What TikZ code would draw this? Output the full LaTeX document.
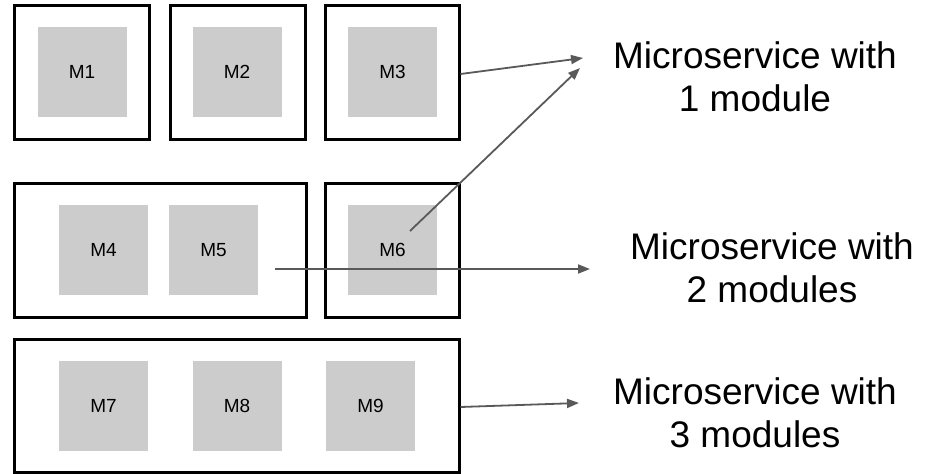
\documentclass[tikz,border=0pt]{standalone}
\usepackage{fontspec}
\setmainfont{Liberation Sans}
\usetikzlibrary{arrows.meta}
\definecolor{modgray}{HTML}{CCCCCC}
\definecolor{arrowgray}{HTML}{595959}

\begin{document}
\begin{tikzpicture}[x=1pt, y=-1pt, align=center,
  svc/.style={draw=black, line width=3pt, minimum height=134pt, inner sep=0pt},
  mod/.style={fill=modgray, minimum width=89pt, minimum height=90pt, inner sep=0pt,
    font=\fontsize{19}{22}\selectfont},
  conn/.style={-{Triangle[length=12pt,width=9pt]}, draw=arrowgray, line width=1.8pt},
  lbl/.style={font=\fontsize{37}{43}\selectfont}]
\useasboundingbox (0,0) rectangle (930,474);

% microservices with one module
\node[svc, minimum width=135pt] (s1) at (81.5,72) {};
\node[svc, minimum width=135pt] (s2) at (237.5,72) {};
\node[svc, minimum width=134pt] (s3) at (392,72) {};
\node[mod] (m1) at (82,72) {M1};
\node[mod] (m2) at (237,72) {M2};
\node[mod] (m3) at (392.5,72) {M3};

% microservices with two modules and one module
\node[svc, minimum width=292pt] (s4) at (160,250) {};
\node[svc, minimum width=134pt] (s5) at (392,250) {};
\node[mod] (m4) at (103.5,250) {M4};
\node[mod] (m5) at (213.5,250) {M5};
\node[mod] (m6) at (392.5,250) {M6};

% microservice with three modules
\node[svc, minimum width=445pt, minimum height=133pt] (s6) at (236.5,405.5) {};
\node[mod] (m7) at (103.5,405.5) {M7};
\node[mod] (m8) at (237,405.5) {M8};
\node[mod] (m9) at (370.5,405.5) {M9};

\node[lbl] (t1) at (755,77) {Microservice with\\1 module};
\node[lbl] (t2) at (772,268) {Microservice with\\2 modules};
\node[lbl] (t3) at (755,413) {Microservice with\\3 modules};

\coordinate (tip1) at (583,58);
\coordinate (from6) at (410,231);
\coordinate (tip2) at (580,68);
\coordinate (from5) at (275,269);
\coordinate (tip3) at (590,269);
\coordinate (tip4) at (579,403);

\path ([yshift=-2pt]s3.east) edge[conn] (tip1)
      (from6) edge[conn] (tip2)
      (from5) edge[conn] (tip3)
      ([yshift=-1.5pt]s6.east) edge[conn] (tip4);
\end{tikzpicture}
\end{document}
